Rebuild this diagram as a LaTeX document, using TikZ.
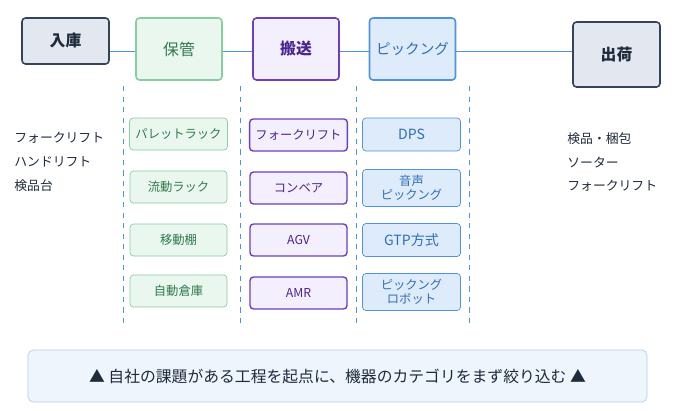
\documentclass[tikz,border=0pt]{standalone}
\usepackage{fontspec}
\setmainfont{Noto Sans CJK JP}
\usetikzlibrary{positioning}
\definecolor{grayfill}{HTML}{E3E7EF}
\definecolor{grayline}{HTML}{34435A}
\definecolor{greenfill}{HTML}{EAF7EE}
\definecolor{greenline}{HTML}{86CDA0}
\definecolor{greentext}{HTML}{2F7A4E}
\definecolor{purplefill}{HTML}{F4EFFC}
\definecolor{purpleline}{HTML}{6A3FC4}
\definecolor{purpletext}{HTML}{4A2490}
\definecolor{bluefill}{HTML}{DDEBFB}
\definecolor{blueline}{HTML}{4E93E0}
\definecolor{bluetext}{HTML}{2F6FB8}
\definecolor{bannerfill}{HTML}{EEF5FD}
\definecolor{bannerline}{HTML}{AFCFF0}
\definecolor{darktext}{HTML}{1E2B3C}

\begin{document}
\begin{tikzpicture}[
    x=0.02cm, y=-0.02cm,
    stage/.style={draw,rounded corners=2pt,line width=0.9pt,font=\fontsize{9}{10}\selectfont,text=darktext},
    end stage/.style={stage,fill=grayfill,draw=grayline,minimum width=87*0.02cm,minimum height=46*0.02cm,font=\fontsize{9}{10}\selectfont\bfseries},
    mid stage/.style={stage,minimum width=86*0.02cm,minimum height=62*0.02cm},
    item/.style={draw,rounded corners=2pt,font=\fontsize{7}{8}\selectfont,align=center,minimum height=32*0.02cm},
    green item/.style={item,fill=greenfill,draw=greenline,text=greentext,minimum width=97*0.02cm},
    purple item/.style={item,fill=purplefill,draw=purpleline,line width=0.8pt,text=purpletext,minimum width=97*0.02cm},
    blue item/.style={item,fill=bluefill,draw=blueline,text=bluetext,minimum width=98*0.02cm,minimum height=33*0.02cm},
    side text/.style={anchor=west,inner sep=0pt,font=\fontsize{7.3}{13.6}\selectfont,text=darktext,align=left},
    column line/.style={blueline,dashed,thin}
]
\useasboundingbox (0,0) rectangle (680,410);

% Flow line
\coordinate (flowL) at (109,51);
\coordinate (flowR) at (573,51);
\draw[blueline,thin] (flowL) -- (flowR);

% Stages
\node[end stage] (nyuko) at (65.5,41) {入庫};
\node[mid stage,fill=greenfill,draw=greenline,text=greentext] (hokan) at (179,49) {保管};
\node[mid stage,fill=purplefill,draw=purpleline,text=purpletext,font=\fontsize{9}{10}\selectfont\bfseries] (hanso) at (296,49) {搬送};
\node[mid stage,fill=bluefill,draw=blueline,text=bluetext,font=\fontsize{8.3}{10}\selectfont] (picking) at (412.5,49) {ピックング};
\node[end stage,minimum height=65*0.02cm] (shukka) at (616.5,54.5) {出荷};

% Column separators
\foreach \x in {123,240,356,469}
    \draw[column line] (\x,86) -- (\x,328);

% Left / right text
\node[side text] (leftlist) at (14,162) {フォークリフト\\ハンドリフト\\検品台};
\node[side text] (rightlist) at (567,162) {検品・梱包\\ソーター\\フォークリフト};

% Storage
\node[green item] (pallet) at (178.5,134) {パレットラック};
\node[green item] (ryudo) at (178.5,187) {流動ラック};
\node[green item] (idou) at (178.5,240) {移動棚};
\node[green item] (jidou) at (178.5,291) {自動倉庫};

% Transport
\node[purple item] (fork) at (298.5,135) {フォークリフト};
\node[purple item] (conv) at (298.5,188) {コンベア};
\node[purple item] (agv) at (298.5,240) {AGV};
\node[purple item] (amr) at (298.5,293) {AMR};

% Picking
\node[blue item,font=\fontsize{8}{9}\selectfont] (dps) at (411.5,134.5) {DPS};
\node[blue item,minimum height=34*0.02cm] (voice) at (411.5,188) {音声\\ピックング};
\node[blue item,font=\fontsize{8}{9}\selectfont] (gtp) at (411.5,240) {GTP方式};
\node[blue item,minimum height=34*0.02cm] (robot) at (411.5,292) {ピックング\\ロボット};

% Banner
\node[draw=bannerline,fill=bannerfill,rounded corners=3pt,minimum width=619*0.02cm,minimum height=52*0.02cm,
      font=\fontsize{9}{10}\selectfont,text=darktext] (banner) at (337.5,376)
    {▲ 自社の課題がある工程を起点に、機器のカテゴリをまず絞り込む ▲};
\end{tikzpicture}
\end{document}
